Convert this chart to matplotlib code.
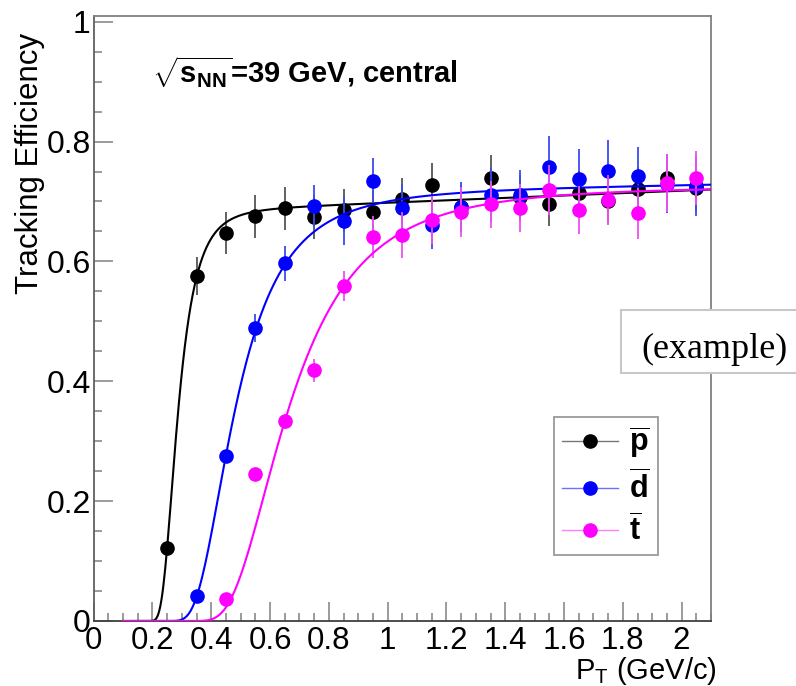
import numpy as np
import matplotlib
matplotlib.use("Agg")
import matplotlib.pyplot as plt
from matplotlib.lines import Line2D
from matplotlib.patches import Rectangle
from matplotlib.ticker import MultipleLocator

plt.rcParams["font.family"] = ["Liberation Sans", "DejaVu Sans"]
plt.rcParams["mathtext.fontset"] = "custom"
plt.rcParams["mathtext.rm"] = "Liberation Sans"
plt.rcParams["mathtext.it"] = "Liberation Sans:italic"
plt.rcParams["mathtext.bf"] = "Liberation Sans:bold"
plt.rcParams["mathtext.sf"] = "Liberation Sans"

# ---- measured efficiencies (pT bin centres in GeV/c) ----
pt_pbar = [0.25, 0.35, 0.45, 0.55, 0.65, 0.75, 0.85, 0.95, 1.05, 1.15,
           1.25, 1.35, 1.45, 1.55, 1.65, 1.75, 1.85, 1.95, 2.05]
eff_pbar = [0.122, 0.576, 0.648, 0.675, 0.689, 0.674, 0.685, 0.683, 0.704, 0.728,
            0.690, 0.739, 0.707, 0.695, 0.714, 0.701, 0.720, 0.740, 0.722]
err_pbar = [0.008, 0.032, 0.035, 0.036, 0.036, 0.036, 0.036, 0.036, 0.036, 0.037,
            0.037, 0.039, 0.037, 0.036, 0.037, 0.037, 0.038, 0.038, 0.038]

pt_dbar = [0.35, 0.45, 0.55, 0.65, 0.75, 0.85, 0.95, 1.05, 1.15,
           1.25, 1.35, 1.45, 1.55, 1.65, 1.75, 1.85, 1.95, 2.05]
eff_dbar = [0.041, 0.276, 0.489, 0.597, 0.692, 0.668, 0.735, 0.689, 0.661,
            0.691, 0.711, 0.710, 0.758, 0.737, 0.751, 0.743, 0.730, 0.726]
err_dbar = [0.005, 0.010, 0.024, 0.029, 0.035, 0.040, 0.037, 0.040, 0.040,
            0.042, 0.045, 0.043, 0.051, 0.050, 0.052, 0.048, 0.050, 0.050]

pt_tbar = [0.45, 0.55, 0.65, 0.75, 0.85, 0.95, 1.05, 1.15,
           1.25, 1.35, 1.45, 1.55, 1.65, 1.75, 1.85, 1.95, 2.05]
eff_tbar = [0.036, 0.245, 0.333, 0.418, 0.559, 0.641, 0.644, 0.669,
            0.683, 0.695, 0.689, 0.719, 0.686, 0.703, 0.680, 0.731, 0.739]
err_tbar = [0.005, 0.008, 0.012, 0.020, 0.025, 0.035, 0.038, 0.040,
            0.042, 0.039, 0.040, 0.042, 0.040, 0.042, 0.043, 0.049, 0.045]

# fit: (a0 + a1*pT) * exp(-(b/pT)^c)
fit_pbar = [0.678, 0.020, 0.271, 6.75]
fit_dbar = [0.712, 0.008, 0.445, 4.41]
fit_tbar = [0.725, 0.000, 0.611, 4.06]
fit_range = [0.1, 2.1]

legend_labels = [r"$\overline{\mathbf{p}}$", r"$\overline{\mathbf{d}}$", r"$\overline{\mathbf{t}}$"]
x_ticks = [0, 0.2, 0.4, 0.6, 0.8, 1, 1.2, 1.4, 1.6, 1.8, 2]
x_ticklabels = ["0", "0.2", "0.4", "0.6", "0.8", "1", "1.2", "1.4", "1.6", "1.8", "2"]
y_ticks = [0, 0.2, 0.4, 0.6, 0.8, 1]
y_ticklabels = ["0", "0.2", "0.4", "0.6", "0.8", "1"]


def fit_curve(x, a0, a1, b, c):
    return (a0 + a1 * x) * np.exp(-(b / x) ** c)


W, H = 796, 686
fig = plt.figure(figsize=(W / 100, H / 100), dpi=100)
ax = fig.add_axes([93.6 / W, 65 / H, (711 - 93.6) / W, (621 - 15.7) / H])

series = [
    (pt_pbar, eff_pbar, err_pbar, fit_pbar, "black", "#555555", "#777777"),
    (pt_dbar, eff_dbar, err_dbar, fit_dbar, "#0000ff", "#3a4cf0", "#7070ff"),
    (pt_tbar, eff_tbar, err_tbar, fit_tbar, "#ff00ff", "#f050f0", "#ff80ff"),
]

xs = np.linspace(fit_range[0], fit_range[1], 600)
handles = []
z = 3.0
for pt, eff, err, par, col, ecol, lcol in series:
    ax.errorbar(pt, eff, yerr=err, fmt="o", color=col, ecolor=ecol,
                elinewidth=1.3, ms=9.5, capsize=0, zorder=z)
    ax.plot(xs, fit_curve(xs, *par), color=col, lw=1.5, zorder=z + 0.05)
    handles.append(Line2D([], [], color=lcol, lw=1.0, marker="o", ms=9.5,
                          markerfacecolor=col, markeredgecolor=col))
    z += 0.1

ax.set_xlim(0, 2.1)
ax.set_ylim(0, 1.01)
ax.set_xticks(x_ticks)
ax.set_xticklabels(x_ticklabels)
ax.set_yticks(y_ticks)
ax.set_yticklabels(y_ticklabels)
ax.xaxis.set_minor_locator(MultipleLocator(0.05))
ax.yaxis.set_minor_locator(MultipleLocator(0.05))

axis_grey = "#808080"
for s in ax.spines.values():
    s.set_color(axis_grey)
    s.set_linewidth(1.3)
ax.spines["bottom"].set_color("#404040")
ax.spines["left"].set_color("#606060")

ax.tick_params(which="both", direction="in", top=False, right=False,
               color=axis_grey, width=1.1)
ax.tick_params(which="major", length=14)
ax.tick_params(which="minor", length=6)
ax.tick_params(axis="x", pad=3.5, labelsize=22.5)
ax.tick_params(axis="y", pad=2, labelsize=23)

ax.set_ylabel("Tracking Efficiency", fontsize=22.5)
ax.yaxis.label.set_rotation_mode("default")
ax.yaxis.label.set_ha("right")
ax.yaxis.label.set_va("top")
ax.yaxis.set_label_coords((45 - 93.6) / (711 - 93.6), (621 - 33) / (621 - 15.7))

ax.set_xlabel(r"P$_\mathregular{T}$ (GeV/c)", fontsize=21)
ax.xaxis.label.set_ha("right")
ax.xaxis.label.set_va("bottom")
ax.xaxis.set_label_coords((717 - 93.6) / (711 - 93.6), (621 - 687) / (621 - 15.7))

ax.text(0.2, 0.898, r"$\sqrt{\mathbf{s}_{\mathbf{NN}}}$=39 GeV, central",
        fontsize=21, fontweight="bold", ha="left", va="baseline")

leg = fig.legend(handles, legend_labels, loc="upper left",
                 bbox_to_anchor=(554 / W, 1 - 417 / H), bbox_transform=fig.transFigure,
                 borderaxespad=0, fancybox=False, frameon=True, edgecolor=axis_grey,
                 prop={"size": 22, "weight": "bold"}, handlelength=1.83,
                 handletextpad=0.39, borderpad=0.25, labelspacing=0.3)
leg.get_frame().set_linewidth(1.3)

# tag box on the right edge
fig.add_artist(Rectangle((620.7 / W, 1 - 373.3 / H), 200 / W, 63.3 / H,
                         transform=fig.transFigure, facecolor="white",
                         edgecolor="#c8c8c8", lw=1.5, zorder=10))
fig.text(641.7 / W, 1 - 358 / H, "(example)", fontsize=26,
         family=["Liberation Serif", "DejaVu Serif"], ha="left", va="baseline", zorder=11)

fig.savefig("out.png", dpi=100)
